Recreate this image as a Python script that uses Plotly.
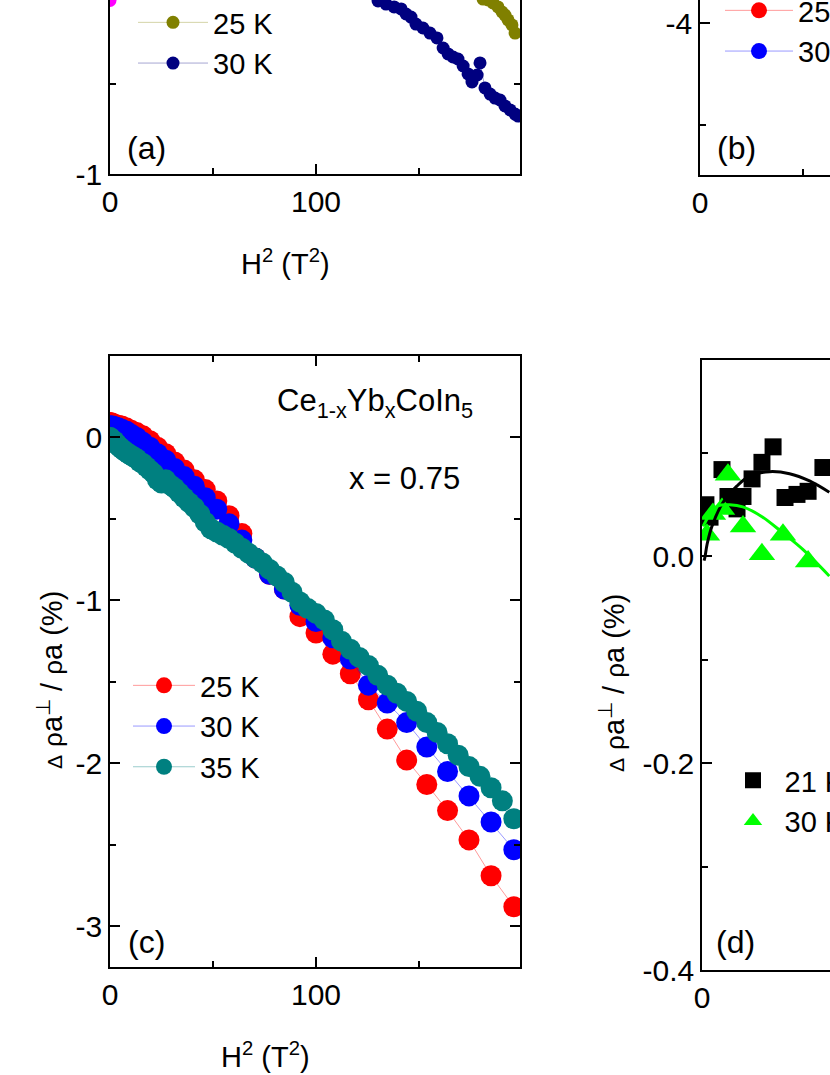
import plotly.graph_objects as go

W, H = 830, 1075

# ---------------- panel (a): Δρ/ρ vs H², lower part only ----------------
a_20K_x = [0.0]
a_20K_y = [-0.036]

a_25K_x = [181.1, 183.5, 185.9, 188.3, 190.3, 191.7, 193.2, 195.1, 196.6]
a_25K_y = [-0.028, -0.033, -0.050, -0.072, -0.100, -0.117, -0.144, -0.172, -0.217]

a_30K_x = [130.1, 134.0, 137.9, 141.3, 143.7, 146.1, 148.5, 151.9, 155.3, 158.7,
           161.7, 164.1, 166.5, 168.9, 171.4, 173.8, 175.7, 178.2, 179.6, 182.0,
           184.5, 186.9, 189.3, 191.7, 194.2, 196.6, 198.1]
a_30K_y = [-0.039, -0.056, -0.072, -0.083, -0.111, -0.128, -0.167, -0.189, -0.217, -0.244,
           -0.300, -0.333, -0.350, -0.361, -0.400, -0.444, -0.489, -0.450, -0.383, -0.522,
           -0.556, -0.578, -0.589, -0.622, -0.644, -0.667, -0.678]

# ---------------- panel (c): x = 0.75 ----------------
# field steps (T), plotted as H²
field_04 = [0.0, 0.4, 0.8, 1.2, 1.6, 2.0, 2.4, 2.8, 3.2, 3.6, 4.0, 4.4, 4.8, 5.2, 5.6, 6.0,
            6.4, 6.8, 7.2, 7.6, 8.0, 8.4, 8.8, 9.2, 9.6, 10.0, 10.4, 10.8, 11.2, 11.6,
            12.0, 12.4, 12.8, 13.2, 13.6, 14.0]
field_02 = [0.0, 0.2, 0.4, 0.6, 0.8, 1.0, 1.2, 1.4, 1.6, 1.8, 2.0, 2.2, 2.4, 2.6, 2.8, 3.0,
            3.2, 3.4, 3.6, 3.8, 4.0, 4.2, 4.4, 4.6, 4.8, 5.0, 5.2, 5.4, 5.6, 5.8, 6.0,
            6.2, 6.4, 6.6, 6.8, 7.0, 7.2, 7.4, 7.6, 7.8, 8.0, 8.2, 8.4, 8.6, 8.8, 9.0,
            9.2, 9.4, 9.6, 9.8, 10.0, 10.2, 10.4, 10.6, 10.8, 11.0, 11.2, 11.4, 11.6,
            11.8, 12.0, 12.2, 12.4, 12.6, 12.8, 13.0, 13.2, 13.4, 13.6, 13.8, 14.0]

c_25K = [0.09, 0.09, 0.09, 0.085, 0.08, 0.075, 0.07, 0.06, 0.045, 0.03, 0.01, -0.02,
         -0.06, -0.10, -0.15, -0.20, -0.26, -0.32, -0.39, -0.48, -0.59, -0.74, -0.84,
         -0.93, -1.10, -1.20, -1.33, -1.45, -1.61, -1.79, -1.98, -2.13, -2.29, -2.47,
         -2.69, -2.88]
c_30K = [0.07, 0.07, 0.07, 0.07, 0.065, 0.06, 0.05, 0.04, 0.02, 0.0, -0.03, -0.06,
         -0.10, -0.14, -0.19, -0.24, -0.30, -0.37, -0.44, -0.53, -0.63, -0.74, -0.84,
         -0.93, -1.03, -1.13, -1.23, -1.36, -1.52, -1.63, -1.75, -1.90, -2.05, -2.20,
         -2.36, -2.53]
c_35K = [0.0, 0.0, -0.005, -0.01, -0.01, -0.015, -0.02, -0.02, -0.03, -0.04,
         -0.05, -0.06, -0.07, -0.08, -0.09, -0.10, -0.11, -0.12, -0.13, -0.15,
         -0.16, -0.18, -0.20, -0.22, -0.26, -0.28, -0.26, -0.29, -0.31, -0.34,
         -0.37, -0.40, -0.43, -0.47, -0.52, -0.56, -0.58, -0.60, -0.62, -0.65,
         -0.68, -0.71, -0.74, -0.77, -0.81, -0.85, -0.89, -0.95, -1.01, -1.05,
         -1.08, -1.12, -1.18, -1.25, -1.30, -1.35, -1.40, -1.46, -1.52, -1.57,
         -1.62, -1.68, -1.75, -1.81, -1.88, -1.95, -2.02, -2.08, -2.15, -2.23,
         -2.34]

# ---------------- panel (d): small field, with fits ----------------
d_21K_x = [1.9, 3.9, 9.7, 12.6, 17.0, 19.9, 24.3, 29.1, 34.5, 40.3, 46.1, 51.5, 58.7]
d_21K_y = [0.050, 0.038, 0.084, 0.058, 0.046, 0.058, 0.075, 0.091, 0.106, 0.057, 0.060, 0.063, 0.086]
d_30K_x = [2.4, 5.3, 9.7, 12.6, 19.9, 29.1, 39.3, 51.5]
d_30K_y = [0.021, 0.041, 0.046, 0.079, 0.029, 0.002, 0.021, -0.005]

fit_21K_x = [1.0, 1.4, 2.5, 4.8, 10.1, 16.9, 23.2, 32.9, 42.5, 52.2, 61.8]
fit_21K_y = [-0.004, -0.001, 0.012, 0.029, 0.052, 0.068, 0.078, 0.082, 0.080, 0.073, 0.062]
fit_30K_x = [0.5, 3.9, 7.7, 13.5, 19.8, 29.5, 39.1, 48.8, 61.8]
fit_30K_y = [0.029, 0.041, 0.049, 0.050, 0.048, 0.038, 0.023, 0.007, -0.019]


def fx(p):
    return p / W


def fy(p):
    return 1 - p / H


FONT = "Liberation Sans, Arial, sans-serif"

fig = go.Figure()


def mk_line(x, y, name, color, line_rgba, size, xa, ya, legend, show=True):
    return go.Scatter(
        x=x, y=y, name=name, mode="lines+markers",
        marker=dict(color=color, size=size, line=dict(width=0)),
        line=dict(color=line_rgba, width=1),
        xaxis=xa, yaxis=ya, legend=legend, showlegend=show,
    )


# (a)
fig.add_trace(mk_line(a_20K_x, a_20K_y, "20 K", "#FF00FF", "rgba(255,0,255,0.35)", 13, "x", "y", "legend", False))
fig.add_trace(mk_line(a_25K_x, a_25K_y, "25 K", "#808000", "rgba(128,128,0,0.35)", 13, "x", "y", "legend"))
fig.add_trace(mk_line(a_30K_x, a_30K_y, "30 K", "#000080", "rgba(0,0,128,0.35)", 13, "x", "y", "legend"))

# (b): only legend entries fall inside the visible window
fig.add_trace(mk_line([None], [None], "25 K", "#FF0000", "rgba(255,0,0,0.4)", 20, "x2", "y2", "legend2"))
fig.add_trace(mk_line([None], [None], "30 K", "#0000FF", "rgba(0,0,255,0.4)", 20, "x2", "y2", "legend2"))

# (c)
x04 = [h * h for h in field_04]
x02 = [h * h for h in field_02]
fig.add_trace(mk_line(x04, c_25K, "25 K", "#FF0000", "rgba(255,0,0,0.4)", 21, "x3", "y3", "legend3"))
fig.add_trace(mk_line(x04, c_30K, "30 K", "#0000FF", "rgba(0,0,255,0.4)", 21, "x3", "y3", "legend3"))
fig.add_trace(mk_line(x02, c_35K, "35 K", "#008080", "rgba(0,128,128,0.4)", 21, "x3", "y3", "legend3"))

# (d)
fig.add_trace(go.Scatter(x=d_21K_x, y=d_21K_y, name="21 K", mode="markers",
                         marker=dict(symbol="square", color="black", size=17),
                         xaxis="x4", yaxis="y4", legend="legend4"))
fig.add_trace(go.Scatter(x=d_30K_x, y=d_30K_y, name="30 K", mode="markers",
                         marker=dict(symbol="triangle-up", color="#00FF00", size=23),
                         xaxis="x4", yaxis="y4", legend="legend4"))
fig.add_trace(go.Scatter(x=fit_21K_x, y=fit_21K_y, mode="lines", showlegend=False,
                         line=dict(color="black", width=3, shape="spline"),
                         xaxis="x4", yaxis="y4"))
fig.add_trace(go.Scatter(x=fit_30K_x, y=fit_30K_y, mode="lines", showlegend=False,
                         line=dict(color="#00FF00", width=3, shape="spline"),
                         xaxis="x4", yaxis="y4"))

axis_common = dict(
    showline=True, linecolor="black", linewidth=1.5,
    ticks="inside", ticklen=10, tickwidth=1.5, tickcolor="black",
    showgrid=False, zeroline=False,
    tickfont=dict(size=30, family=FONT, color="black"),
)
minor_common = dict(ticks="inside", ticklen=6, tickwidth=1.5, tickcolor="black", showgrid=False)

leg_common = dict(xanchor="left", yanchor="top", bgcolor="rgba(0,0,0,0)", tracegroupgap=0)

fig.update_layout(
    width=W, height=H,
    margin=dict(l=0, r=0, t=0, b=0, pad=0, autoexpand=False),
    paper_bgcolor="white", plot_bgcolor="white",
    font=dict(family=FONT, size=29, color="black"),
    # (a)
    xaxis=dict(axis_common, domain=[fx(110), fx(520)], range=[0, 199], anchor="y",
               tickmode="array", tickvals=[0, 100], ticktext=["0", "100"],
               minor=dict(minor_common, tickmode="array", tickvals=[50, 150]), mirror=False),
    yaxis=dict(axis_common, domain=[fy(174), 1], range=[-1, -1 + 174 / 180], anchor="x",
               tickmode="array", tickvals=[-1, 0], ticktext=["-1", "0"],
               minor=dict(minor_common, tickmode="array", tickvals=[-0.5]), mirror="ticks"),
    # (b)
    xaxis2=dict(axis_common, domain=[fx(700), 1], range=[0, 130 / 2.06], anchor="y2",
                tickmode="array", tickvals=[0, 100], ticktext=["0", "100"],
                minor=dict(minor_common, tickmode="array", tickvals=[50]), mirror=False),
    yaxis2=dict(axis_common, domain=[fy(175), 1], range=[-5.49, -4 + 23 / 102], anchor="x2",
                tickmode="array", tickvals=[-4], ticktext=["-4"],
                minor=dict(minor_common, tickmode="array", tickvals=[-5]), mirror=False),
    # (c)
    xaxis3=dict(axis_common, domain=[fx(110), fx(520)], range=[0, 199], anchor="y3",
                tickmode="array", tickvals=[0, 100], ticktext=["0", "100"],
                minor=dict(minor_common, tickmode="array", tickvals=[50, 150]), mirror="ticks"),
    yaxis3=dict(axis_common, domain=[fy(967), fy(356)], range=[-3.25, 0.5], anchor="x3",
                tickmode="array", tickvals=[-3, -2, -1, 0], ticktext=["-3", "-2", "-1", "0"],
                minor=dict(minor_common, tickmode="array", tickvals=[-2.5, -1.5, -0.5]),
                mirror="ticks"),
    # (d)
    xaxis4=dict(axis_common, domain=[fx(702), 1], range=[0, 128 / 2.06], anchor="y4",
                tickmode="array", tickvals=[0], ticktext=["0"], mirror=True),
    yaxis4=dict(axis_common, domain=[fy(970), fy(360)], range=[-0.4, 0.19], anchor="x4",
                tickmode="array", tickvals=[-0.4, -0.2, 0.0], ticktext=["-0.4", "-0.2", "0.0"],
                minor=dict(minor_common, tickmode="array", tickvals=[-0.3, -0.1, 0.1]),
                mirror=False),
    legend=dict(leg_common, x=fx(133), y=fy(-3), font=dict(size=29), itemwidth=70),
    legend2=dict(leg_common, x=fx(720), y=fy(-15), font=dict(size=29), itemwidth=68),
    legend3=dict(leg_common, x=fx(128), y=fy(660), font=dict(size=29), itemwidth=62),
    legend4=dict(leg_common, x=fx(721.5), y=fy(755), font=dict(size=29), itemwidth=53),
)

ytitle = ("<span style='font-size:21px'>Δ</span> <span style='font-size:26px'>ρ</span>a<sup>⊥</sup> / "
          "<span style='font-size:26px'>ρ</span>a (%)")

ann = [
    dict(text="(a)", x=fx(146), y=fy(148), font_size=32),
    dict(text="(b)", x=fx(736), y=fy(148), font_size=32),
    dict(text="(c)", x=fx(146), y=fy(942), font_size=32),
    dict(text="(d)", x=fx(735), y=fy(942), font_size=32),
    dict(text="H<sup>2</sup> (T<sup>2</sup>)", x=fx(285), y=fy(262)),
    dict(text="H<sup>2</sup> (T<sup>2</sup>)", x=fx(265), y=fy(1055)),
    dict(text="Ce<sub>1-x</sub>Yb<sub>x</sub>CoIn<sub>5</sub>", x=fx(475), y=fy(403),
         xanchor="right", font_size=31),
    dict(text="x = 0.75", x=fx(462), y=fy(478), xanchor="right", font_size=31),
    dict(text=ytitle, x=fx(50), y=fy(680), textangle=-90),
    dict(text=ytitle, x=fx(612), y=fy(683), textangle=-90),
]
for a in ann:
    base = dict(xref="paper", yref="paper", showarrow=False, xanchor="center", yanchor="middle",
                font=dict(size=29, family=FONT, color="black"))
    fs = a.pop("font_size", None)
    base.update(a)
    if fs:
        base["font"] = dict(size=fs, family=FONT, color="black")
    fig.add_annotation(**base)

# the page's default body margin would shift the figure by 8px
fig.write_html("out.html", config={"displayModeBar": False},
               post_script="document.body.style.margin='0px';")
